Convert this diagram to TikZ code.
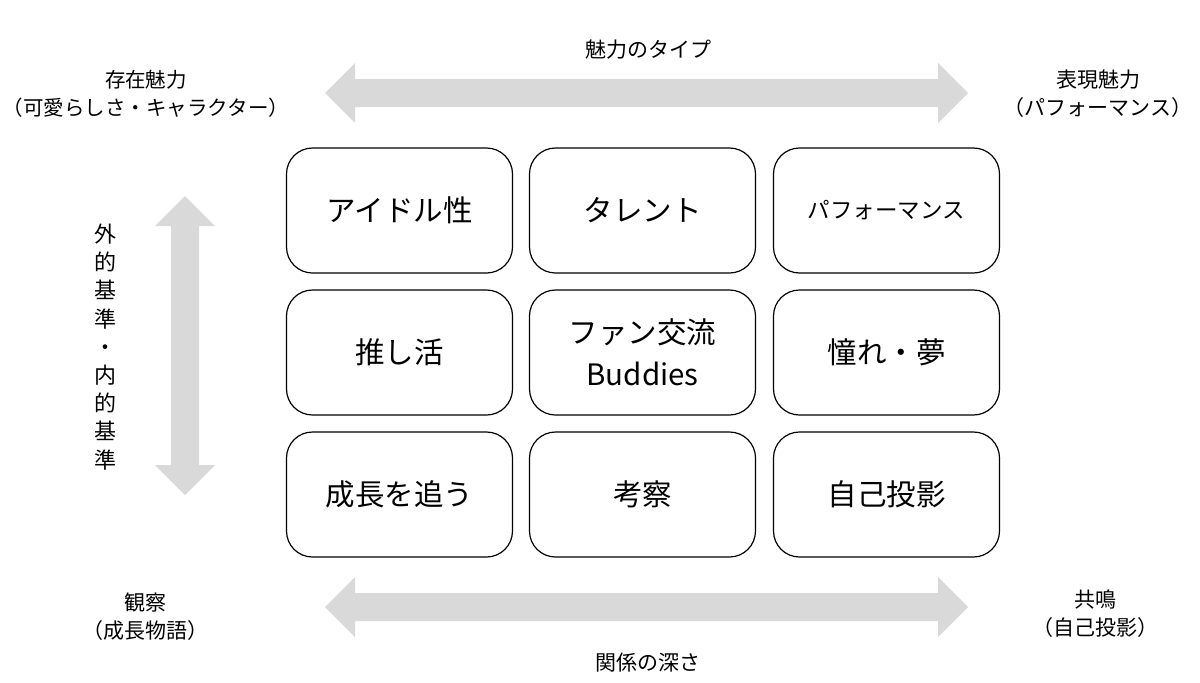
\documentclass[tikz,border=0pt]{standalone}
\usepackage{fontspec}
\setmainfont{Noto Sans CJK JP}
\begin{document}
\begin{tikzpicture}[x=1pt,y=-1pt,
  cell/.style={draw=black,line width=1.2pt,rounded corners=26pt,minimum width=226pt,minimum height=125pt,align=center,inner sep=0pt},
  big/.style={font=\fontsize{29.5}{40}\selectfont},
  mid/.style={font=\fontsize{22.5}{28}\selectfont},
  lbl/.style={font=\fontsize{21}{28}\selectfont,align=center,inner sep=0pt},
  arr/.style={fill=black!15}]
\useasboundingbox (0,0) rectangle (1200,683);
% arrows
\fill[arr] (325,93) -- (355,63) -- (355,79) -- (938,79) -- (938,63) -- (968,93) -- (938,123) -- (938,107) -- (355,107) -- (355,123) -- cycle;
\fill[arr] (325,607) -- (355,577) -- (355,593) -- (938,593) -- (938,577) -- (968,607) -- (938,637) -- (938,621) -- (355,621) -- (355,637) -- cycle;
\fill[arr] (185,196) -- (215,226) -- (199,226) -- (199,465) -- (215,465) -- (185,495) -- (155,465) -- (171,465) -- (171,226) -- (155,226) -- cycle;
% cells
\node[cell,big] (c11) at (399.5,210.5) {アイドル性};
\node[cell,big] (c12) at (642.5,210.5) {タレント};
\node[cell,mid] (c13) at (886.5,210.5) {パフォーマンス};
\node[cell,big] (c21) at (399.5,352.5) {推し活};
\node[cell,big,font=\fontsize{29.5}{42}\selectfont] (c22) at (642.5,352.5) {ファン交流\\Buddies};
\node[cell,big] (c23) at (886.5,352.5) {憧れ・夢};
\node[cell,big] (c31) at (399.5,494.5) {成長を追う};
\node[cell,big] (c32) at (642.5,494.5) {考察};
\node[cell,big] (c33) at (886.5,494.5) {自己投影};
% labels
\node[lbl] (top) at (648,50) {魅力のタイプ};
\node[lbl,font=\fontsize{20.5}{28}\selectfont] (tl) at (146,94) {存在魅力\\（可愛らしさ・キャラクター）};
\node[lbl] (tr) at (1098,94) {表現魅力\\（パフォーマンス）};
\node[lbl] (bl) at (145,617) {観察\\（成長物語）};
\node[lbl] (br) at (1095,614) {共鳴\\（自己投影）};
\node[lbl] (bot) at (648,663) {関係の深さ};
\node[lbl,font=\fontsize{22}{28.2}\selectfont] (vert) at (105,347) {外\\的\\基\\準\\・\\内\\的\\基\\準};
\end{tikzpicture}
\end{document}
